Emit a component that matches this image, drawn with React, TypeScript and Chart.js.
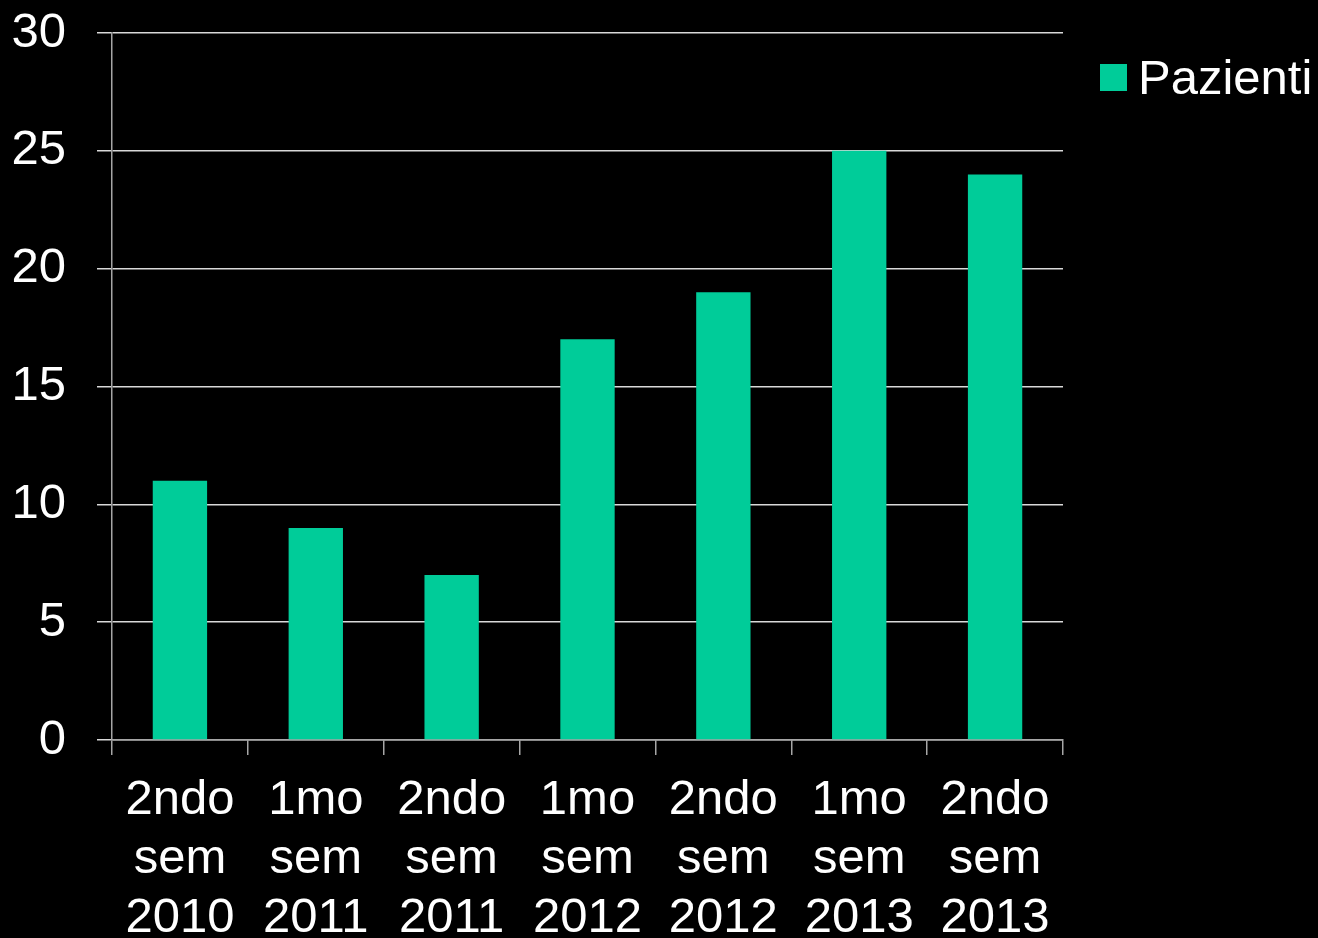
import React, { useEffect, useRef } from "react";
import { Chart, registerables } from "chart.js";

Chart.register(...registerables);

const categories: string[][] = [
  ["2ndo", "sem", "2010"],
  ["1mo", "sem", "2011"],
  ["2ndo", "sem", "2011"],
  ["1mo", "sem", "2012"],
  ["2ndo", "sem", "2012"],
  ["1mo", "sem", "2013"],
  ["2ndo", "sem", "2013"],
];
const seriesLabel = "Pazienti";
const pazienti = [11, 9, 7, 17, 19, 25, 24];
const yTicks = [0, 5, 10, 15, 20, 25, 30];

const BAR = "#00CC99";
const FONT = "'Liberation Sans', Arial, sans-serif";
const FS = 49;

export default function App() {
  const ref = useRef<HTMLCanvasElement | null>(null);

  useEffect(() => {
    if (!ref.current) return;
    const chart = new Chart(ref.current, {
      type: "bar",
      data: {
        labels: categories,
        datasets: [
          {
            label: seriesLabel,
            data: pazienti,
            backgroundColor: BAR,
            borderWidth: 0,
            barPercentage: 0.4,
            categoryPercentage: 1,
          },
        ],
      },
      options: {
        animation: false,
        responsive: false,
        maintainAspectRatio: false,
        layout: { padding: { top: 33, right: 255, left: 0, bottom: 0 } },
        plugins: {
          legend: { display: false },
          tooltip: { enabled: false },
        },
        scales: {
          x: {
            offset: true,
            grid: {
              display: true,
              offset: true,
              drawOnChartArea: false,
              drawTicks: true,
              tickLength: 15,
              color: "#a6a6a6",
              lineWidth: 1.5,
            },
            border: { display: true, color: "#a6a6a6", width: 1.5 },
            ticks: {
              color: "#ffffff",
              font: { family: FONT, size: FS, lineHeight: 1.2 },
              padding: 16,
              maxRotation: 0,
              autoSkip: false,
            },
            afterFit: (s: any) => {
              s.height = 198;
              s.paddingLeft = 0;
              s.paddingRight = 0;
            },
          },
          y: {
            min: 0,
            max: 30,
            afterBuildTicks: (s: any) => {
              s.ticks = yTicks.map((v) => ({ value: v }));
            },
            grid: {
              color: "#d9d9d9",
              lineWidth: 1.5,
              drawTicks: true,
              tickLength: 15,
            },
            border: { display: true, color: "#a6a6a6", width: 1.5 },
            ticks: {
              color: "#ffffff",
              font: { family: FONT, size: FS },
              padding: 31,
            },
            afterFit: (s: any) => {
              s.width = 112;
              s.paddingTop = 0;
              s.paddingBottom = 0;
            },
          },
        },
      },
    });
    return () => chart.destroy();
  }, []);

  return (
    <div
      style={{
        position: "absolute",
        left: 0,
        top: 0,
        width: 1318,
        height: 938,
        background: "#000000",
        overflow: "hidden",
      }}
    >
      <canvas ref={ref} width={1318} height={938} style={{ display: "block" }} />
      <div
        style={{
          position: "absolute",
          left: 1100,
          top: 50,
          height: 54,
          display: "flex",
          alignItems: "center",
          fontFamily: FONT,
          fontSize: FS,
          color: "#ffffff",
          whiteSpace: "nowrap",
        }}
      >
        <span
          style={{
            display: "inline-block",
            width: 27,
            height: 27,
            background: BAR,
            marginRight: 11,
          }}
        />
        <span>{seriesLabel}</span>
      </div>
    </div>
  );
}
